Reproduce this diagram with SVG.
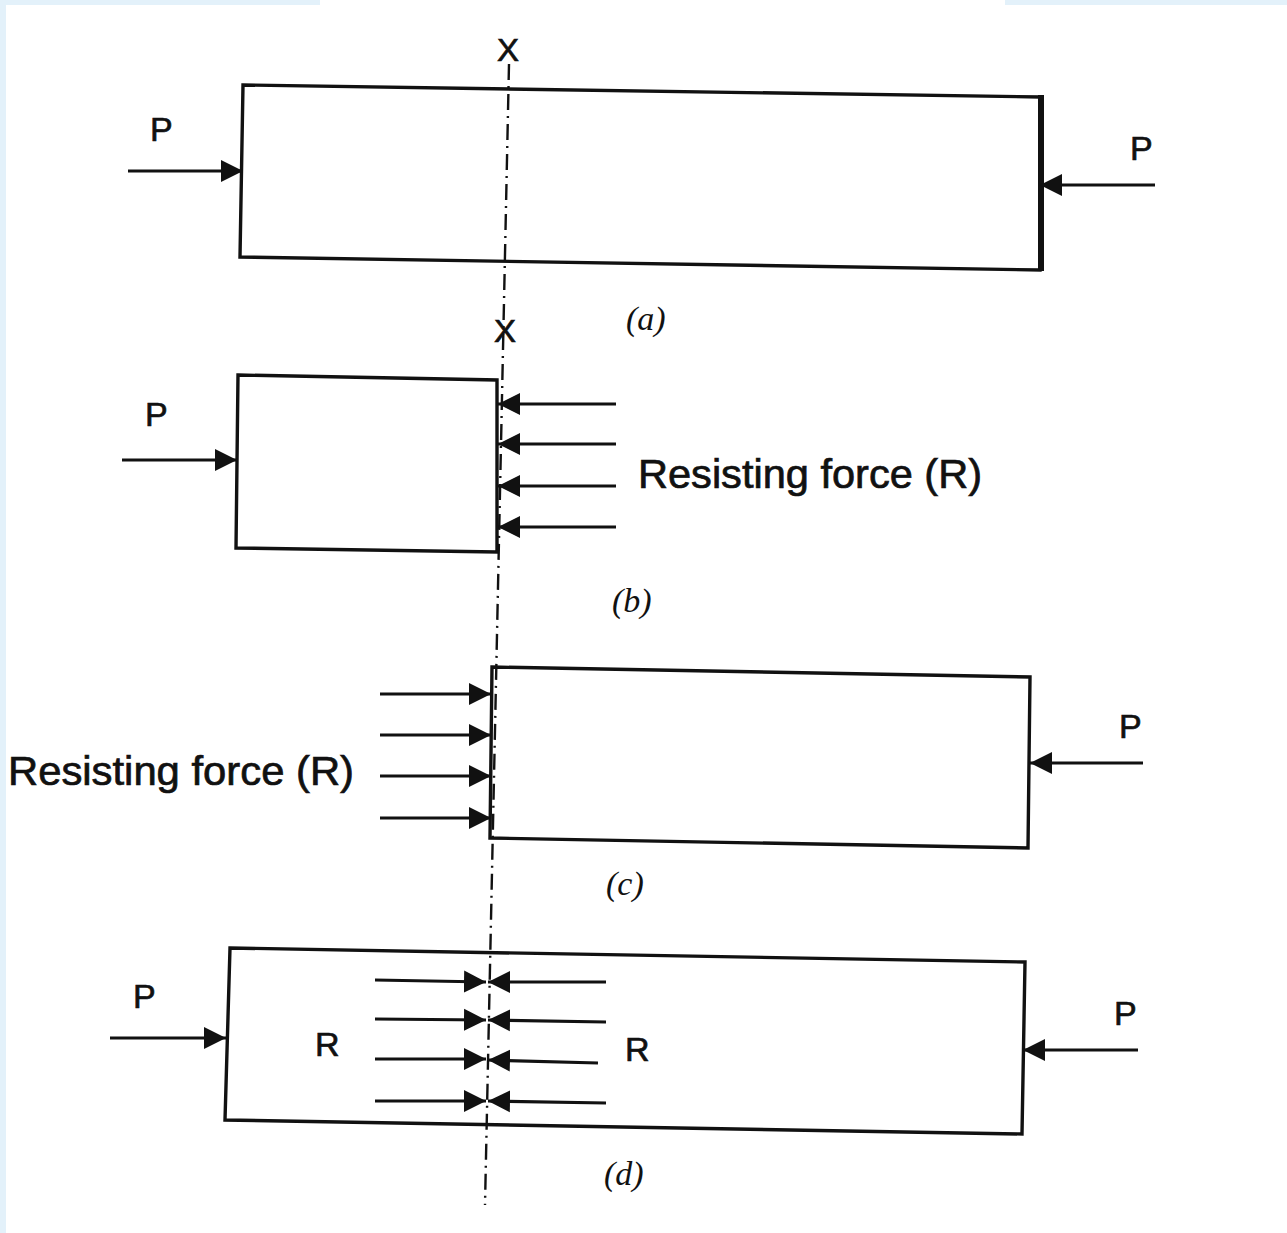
<svg xmlns="http://www.w3.org/2000/svg" width="1287" height="1233" viewBox="0 0 1287 1233">
<style>
.body{fill:none;stroke:#111;stroke-width:3.4;stroke-linejoin:miter}
.ar{stroke:#111;stroke-width:3.2;fill:none}
.axis{stroke:#111;stroke-width:2.4;fill:none;stroke-dasharray:16 6 2 6}
.t{font-family:"Liberation Sans",Arial,sans-serif;fill:#111;stroke:#111;stroke-width:0.7}
.lab{font-family:"Liberation Serif","Times New Roman",serif;font-style:italic;fill:#111;font-size:34px}
</style>
<defs>
<marker id="ah" viewBox="0 0 20 20" refX="20" refY="10" markerWidth="22" markerHeight="26" markerUnits="userSpaceOnUse" orient="auto">
<path d="M0,0 L20,10 L0,20 Z" fill="#111"/>
</marker>
</defs>
<rect x="0" y="0" width="1287" height="1233" fill="#ffffff"/>
<rect x="0" y="0" width="6" height="1233" fill="#e3f1fa"/>
<rect x="0" y="0" width="320" height="5" fill="#e3f1fa"/>
<rect x="1005" y="0" width="282" height="5" fill="#e3f1fa"/>

<g id="axis">
<line class="axis" x1="509" y1="64" x2="485" y2="1205"/>
<text class="t" x="497" y="61" font-size="32" textLength="22" lengthAdjust="spacingAndGlyphs">X</text>
<text class="t" x="494" y="342" font-size="32" textLength="22" lengthAdjust="spacingAndGlyphs">X</text>
</g>

<g id="bar-a">
<polygon class="body" points="243,85 1040,97 1040,270 240,257"/>
<line x1="1041" y1="95" x2="1041" y2="271" stroke="#111" stroke-width="6"/>
<text class="t" x="150" y="141" font-size="34">P</text>
<text class="t" x="1130" y="160" font-size="34">P</text>
<text class="lab" x="626" y="330">(a)</text>
</g>

<g id="bar-b">
<polygon class="body" points="238,375 497,380 497,552 236,548"/>
<text class="t" x="145" y="426" font-size="34">P</text>
<text class="t" x="638" y="488" font-size="40" textLength="344" lengthAdjust="spacingAndGlyphs">Resisting force (R)</text>
<text class="lab" x="612" y="612">(b)</text>
</g>

<g id="bar-c">
<polygon class="body" points="492,667 1030,677 1028,848 490,838"/>
<text class="t" x="1119" y="738" font-size="34">P</text>
<text class="t" x="8" y="785" font-size="40" textLength="346" lengthAdjust="spacingAndGlyphs">Resisting force (R)</text>
<text class="lab" x="606" y="895">(c)</text>
</g>

<g id="bar-d">
<polygon class="body" points="230,948 1025,962 1022,1134 225,1120"/>
<text class="t" x="133" y="1008" font-size="34">P</text>
<text class="t" x="1114" y="1025" font-size="34">P</text>
<text class="t" x="315" y="1056" font-size="34">R</text>
<text class="t" x="625" y="1061" font-size="34">R</text>
<text class="lab" x="604" y="1185">(d)</text>
</g>

<g id="connectors">
<line class="ar" x1="128" y1="171" x2="243" y2="171" marker-end="url(#ah)"/>
<line class="ar" x1="1155" y1="185" x2="1040" y2="185" marker-end="url(#ah)"/>

<line class="ar" x1="122" y1="460" x2="237" y2="460" marker-end="url(#ah)"/>
<line class="ar" x1="616" y1="404" x2="498" y2="404" marker-end="url(#ah)"/>
<line class="ar" x1="616" y1="444" x2="498" y2="444" marker-end="url(#ah)"/>
<line class="ar" x1="616" y1="486" x2="498" y2="486" marker-end="url(#ah)"/>
<line class="ar" x1="616" y1="527" x2="498" y2="527" marker-end="url(#ah)"/>

<line class="ar" x1="380" y1="694" x2="491" y2="694" marker-end="url(#ah)"/>
<line class="ar" x1="380" y1="735" x2="491" y2="735" marker-end="url(#ah)"/>
<line class="ar" x1="380" y1="776" x2="491" y2="776" marker-end="url(#ah)"/>
<line class="ar" x1="380" y1="818" x2="491" y2="818" marker-end="url(#ah)"/>
<line class="ar" x1="1143" y1="763" x2="1030" y2="763" marker-end="url(#ah)"/>

<line class="ar" x1="110" y1="1038" x2="226" y2="1038" marker-end="url(#ah)"/>
<line class="ar" x1="1138" y1="1050" x2="1023" y2="1050" marker-end="url(#ah)"/>

<line class="ar" x1="375" y1="980" x2="486" y2="982" marker-end="url(#ah)"/>
<line class="ar" x1="375" y1="1019" x2="486" y2="1020" marker-end="url(#ah)"/>
<line class="ar" x1="375" y1="1059" x2="486" y2="1059" marker-end="url(#ah)"/>
<line class="ar" x1="375" y1="1101" x2="486" y2="1101" marker-end="url(#ah)"/>
<line class="ar" x1="606" y1="982" x2="488" y2="982" marker-end="url(#ah)"/>
<line class="ar" x1="606" y1="1022" x2="488" y2="1020" marker-end="url(#ah)"/>
<line class="ar" x1="598" y1="1063" x2="488" y2="1060" marker-end="url(#ah)"/>
<line class="ar" x1="606" y1="1103" x2="488" y2="1101" marker-end="url(#ah)"/>
</g>
</svg>
